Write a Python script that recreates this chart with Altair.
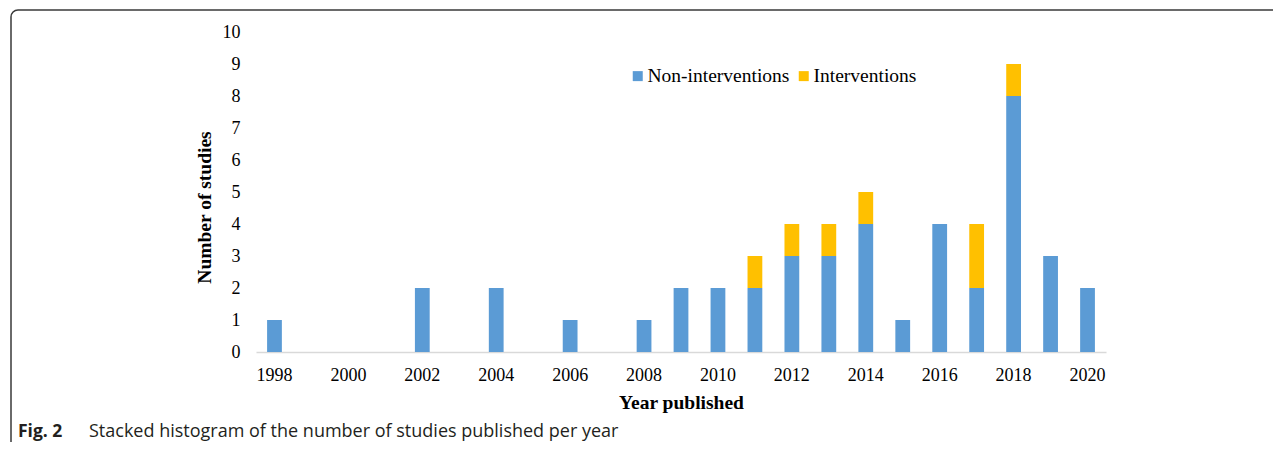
import altair as alt
import pandas as pd

years = [1998, 2002, 2004, 2006, 2008, 2009, 2010, 2011, 2012, 2013, 2014, 2015, 2016, 2017, 2018, 2019, 2020]
non_interventions = [1, 2, 2, 1, 1, 2, 2, 2, 3, 3, 4, 1, 4, 2, 8, 3, 2]
interventions = [0, 0, 0, 0, 0, 0, 0, 1, 1, 1, 1, 0, 0, 2, 1, 0, 0]
all_years = list(range(1998, 2021))
series = ["Non-interventions", "Interventions"]
colors = ["#5B9BD5", "#FFC000"]
y_ticks = list(range(0, 11))
caption_bold = "Fig. 2"
caption_text = "Stacked histogram of the number of studies published per year"

rows = []
for y, n, i in zip(years, non_interventions, interventions):
    rows.append({"year": y, "series": series[0], "count": n, "ord": 0})
    rows.append({"year": y, "series": series[1], "count": i, "ord": 1})
df = pd.DataFrame(rows)

SERIF = "Liberation Serif"

bars = alt.Chart(df).mark_bar().encode(
    x=alt.X("year:O",
            scale=alt.Scale(domain=all_years, paddingInner=0.6, paddingOuter=0.3),
            axis=alt.Axis(title="Year published", labelAngle=0, ticks=False,
                          labelExpr="datum.value % 2 == 0 ? datum.label : ''",
                          domainColor="#D9D9D9", domainWidth=1.5,
                          labelFont=SERIF, labelFontSize=18, labelColor="#000",
                          labelPadding=14, titleFont=SERIF, titleFontSize=19.5,
                          titleFontWeight="bold", titleColor="#000", titlePadding=9)),
    y=alt.Y("count:Q", stack="zero",
            scale=alt.Scale(domain=[0, 10]),
            axis=alt.Axis(title="Number of studies", values=y_ticks, grid=False,
                          domain=False, ticks=False, labelFont=SERIF, labelFontSize=18,
                          labelColor="#000", labelPadding=16, titleFont=SERIF,
                          titleFontSize=19.5, titleFontWeight="bold", titleColor="#000",
                          titlePadding=8, titleY=175)),
    color=alt.Color("series:N", scale=alt.Scale(domain=series, range=colors),
                    legend=alt.Legend(title=None, orient="none", legendX=372, legendY=34,
                                      direction="horizontal", symbolType="square",
                                      symbolSize=100, symbolStrokeWidth=0,
                                      labelFont=SERIF, labelFontSize=19.5, labelColor="#000",
                                      labelOffset=0, columnPadding=4)),
    order=alt.Order("ord:Q", sort="ascending"),
)

frame_df = pd.DataFrame({"k": [0]})
frame = alt.Chart(frame_df).mark_rect(fillOpacity=0, stroke="#3a3a3a", strokeWidth=1.5,
                                      cornerRadius=7).encode(
    x=alt.value(-245), x2=alt.value(1100), y=alt.value(-22), y2=alt.value(430)
)

cap_df = pd.DataFrame({"t": [caption_bold], "u": [caption_text]})
cap1 = alt.Chart(cap_df).mark_text(align="left", baseline="middle", font="Open Sans",
                                   fontSize=17.5, fontWeight="bold", color="#231f20").encode(
    text="t:N", x=alt.value(-238), y=alt.value(400)
)
cap2 = alt.Chart(cap_df).mark_text(align="left", baseline="middle", font="Open Sans",
                                   fontSize=18, color="#231f20").encode(
    text="u:N", x=alt.value(-167), y=alt.value(400)
)

chart = alt.layer(bars, frame, cap1, cap2).properties(
    width=850, height=320,
    autosize=alt.AutoSizeParams(type="none"),
    padding={"left": 248, "top": 24, "right": 167, "bottom": 90},
).configure_view(stroke=None)

chart.save("out.html", embed_options={"renderer": "svg", "actions": False})
